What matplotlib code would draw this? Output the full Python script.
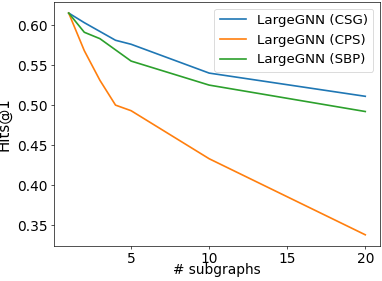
import numpy as np
import matplotlib.pyplot as plt

# number of subgraphs and Hits@1 for each partition strategy
subgraphs = [1, 2, 3, 4, 5, 10, 20]
hits_csg = [0.615, 0.603, 0.592, 0.581, 0.576, 0.540, 0.511]
hits_cps = [0.615, 0.568, 0.531, 0.500, 0.493, 0.433, 0.338]
hits_sbp = [0.615, 0.591, 0.583, 0.569, 0.555, 0.525, 0.492]

# drawn at a low dpi so ticks, spines and paddings come out thin like the reference
fig = plt.figure(figsize=(382 / 60, 281 / 60), dpi=60)
ax = fig.add_axes([0.141, 0.125, 0.854, 0.868])
ax.plot(subgraphs, hits_csg, label="LargeGNN (CSG)", color='tab:blue', lw=2)
ax.plot(subgraphs, hits_cps, label="LargeGNN (CPS)", color='tab:orange', lw=2)
ax.plot(subgraphs, hits_sbp, label="LargeGNN (SBP)", color='tab:green', lw=2)
ax.set_xticks([5, 10, 15, 20])
ax.set_yticks([0.35, 0.40, 0.45, 0.50, 0.55, 0.60])
ax.tick_params(axis='both', labelsize=16.5)
ax.set_xlabel('# subgraphs', fontsize=16.5)
ax.set_ylabel('Hits@1', fontsize=18)
ax.xaxis.set_label_coords(0.5, -0.072)
ax.yaxis.set_label_coords(-0.13, 0.5)
ax.legend(fontsize=16, loc='upper right')
fig.savefig('out.png', dpi=60)
